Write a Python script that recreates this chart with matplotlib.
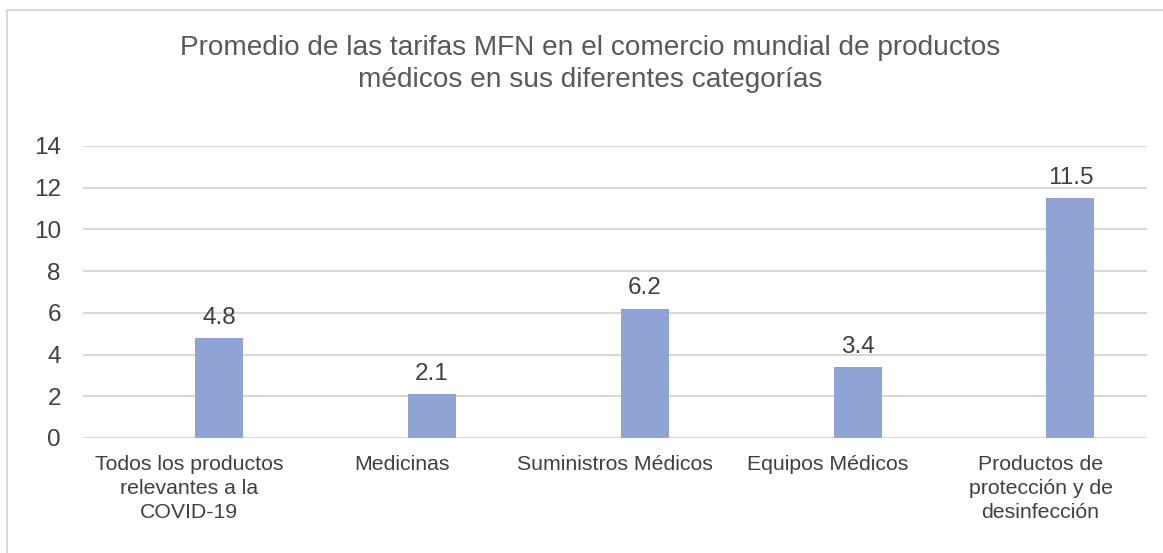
import matplotlib
matplotlib.use('Agg')
import matplotlib.pyplot as plt
import matplotlib.patches as mpatches
import numpy as np

plt.rcParams['font.family'] = ['Liberation Sans', 'DejaVu Sans']

categories = [
    'Todos los productos\nrelevantes a la\nCOVID-19',
    'Medicinas',
    'Suministros Médicos',
    'Equipos Médicos',
    'Productos de\nprotección y de\ndesinfección',
]
values = [4.8, 2.1, 6.2, 3.4, 11.5]
yticks = [0, 2, 4, 6, 8, 10, 12, 14]
title = 'Promedio de las tarifas MFN en el comercio mundial de productos\nmédicos en sus diferentes categorías'

BAR_COLOR = '#8fa4d4'
TEXT_COLOR = '#404040'
GRID_COLOR = '#d9d9d9'

W, H = 1163, 553
fig = plt.figure(figsize=(W / 100, H / 100), dpi=100)
ax = fig.add_axes([83 / W, 1 - 438 / H, (1147 - 83) / W, (438 - 146) / H])

# chart frame
fig.patches.append(mpatches.Rectangle((7 / W, -0.05), 1.2, 1 - 10 / H + 0.05,
                                      transform=fig.transFigure, fill=False,
                                      edgecolor=GRID_COLOR, linewidth=1.5))

x = np.arange(len(values))
bars = ax.bar(x + 0.14, values, width=0.225, color=BAR_COLOR, zorder=3)
for b, v in zip(bars, values):
    ax.text(b.get_x() + b.get_width() / 2, v + 0.45, f'{v:.1f}',
            ha='center', va='bottom', fontsize=17.5, color=TEXT_COLOR)

ax.set_xlim(-0.5, len(values) - 0.5)
ax.set_ylim(0, 14)
ax.set_yticks(yticks)
ax.set_xticks(x)
ax.set_xticklabels(categories, fontsize=15.3, color=TEXT_COLOR, linespacing=1.33)
ax.tick_params(axis='y', labelsize=17.5, colors=TEXT_COLOR, length=0, pad=16)
ax.tick_params(axis='x', length=0, pad=12)
ax.grid(axis='y', color=GRID_COLOR, linewidth=1.5, zorder=0)
for s in ax.spines.values():
    s.set_visible(False)

fig.text(590 / W, 1 - 35 / H, title, ha='center', va='top', fontsize=20.2,
         color='#595959', linespacing=1.32)

fig.savefig('out.png', dpi=100, facecolor='white')
